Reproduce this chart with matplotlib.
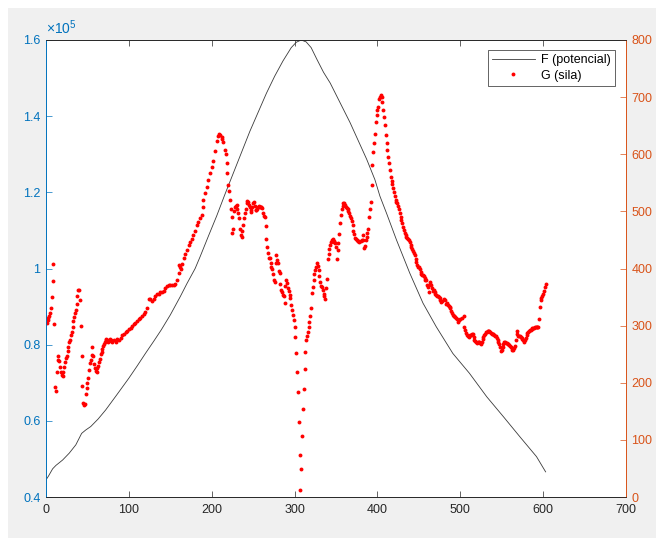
import numpy as np
import matplotlib
matplotlib.use("Agg")
import matplotlib.pyplot as plt
from matplotlib.patches import Rectangle
from matplotlib.lines import Line2D

plt.rcParams['font.family'] = ['Liberation Sans', 'DejaVu Sans']
plt.rcParams['mathtext.default'] = 'regular'

# F (potencial) - levá osa
f_x = [0, 3, 8, 12, 20, 28, 36, 43, 48, 54, 63, 72, 85, 100, 110, 120, 130, 139,
       150, 162, 170, 180, 186, 196, 206, 216, 226, 236, 246, 256, 266, 276, 286,
       296, 302, 308, 314, 320, 327, 335, 343, 355, 367, 377, 387, 392, 397, 403,
       411, 423, 439, 455, 471, 491, 511, 532, 552, 572, 592, 603]
f_y = [44500, 45500, 47400, 48300, 49700, 51500, 53700, 56700, 57600, 58500,
       60500, 62850, 66700, 71200, 74400, 77700, 80900, 83850, 87800, 92600,
       96000, 100000, 103100, 108500, 113800, 119500, 125000, 130500, 136000,
       141000, 146000, 150500, 154500, 158000, 159400, 160000, 159500, 158000,
       154900, 151500, 148700, 143500, 138300, 133500, 128700, 126000, 123300,
       119000, 114500, 107500, 98800, 90900, 84700, 77700, 72500, 66300, 61100,
       55800, 50600, 46600]

# G (sila) - pravá osa
g_x = [1, 2, 3, 4, 5, 6, 7, 8, 9, 10, 11, 12, 13, 14, 15, 16, 17, 18, 19, 20,
       21, 22, 23, 24, 25, 26, 27, 28, 29, 30, 31, 32, 33, 34, 35, 36, 37, 38, 39, 40,
       41, 42, 43, 44, 45, 46, 47, 48, 49, 50, 51, 52, 53, 54, 55, 56, 57, 58, 59, 60,
       61, 62, 63, 64, 65, 66, 67, 68, 69, 70, 71, 72, 73, 74, 75, 76, 77, 78, 79, 80,
       82, 84, 86, 88, 90, 92, 94, 96, 98, 100, 102, 104, 106, 108, 110, 112, 114, 116,
       118, 120, 122, 124, 126, 128, 130, 132, 134, 136, 138, 140, 142, 144, 146, 148,
       150, 152, 154, 156, 158, 160, 161, 162, 163, 164, 166, 168, 170, 172, 174, 176,
       178, 180, 182, 184, 186, 188, 189, 190, 192, 194, 196, 198, 200, 202, 204, 206,
       208, 209, 210, 212, 213, 214, 216, 217, 218, 219, 220, 221, 222, 223, 224, 225,
       226, 227, 228, 229, 230, 231, 232, 233, 234, 235, 236, 237, 238, 239, 240, 241,
       242, 243, 244, 245, 246, 247, 248, 249, 250, 251, 252, 253, 254, 255, 256, 257,
       258, 259, 260, 261, 262, 263, 264, 265, 266, 267, 268, 269, 270, 271, 272, 273,
       274, 275, 276, 277, 278, 279, 280, 281, 282, 283, 284, 285, 286, 287, 288, 289,
       290, 291, 292, 293, 294, 295, 296, 297, 298, 299, 300, 301, 302, 303, 304, 305,
       306, 307, 308, 309, 310, 311, 312, 313, 314, 315, 316, 317, 318, 319, 320, 321,
       322, 323, 324, 325, 326, 327, 328, 329, 330, 331, 332, 333, 334, 335, 336, 337,
       338, 339, 340, 341, 342, 343, 344, 345, 346, 347, 348, 349, 350, 351, 352, 353,
       354, 355, 356, 357, 358, 359, 360, 361, 362, 363, 364, 365, 366, 367, 368, 369,
       370, 371, 372, 373, 374, 375, 376, 377, 378, 380, 381, 382, 383, 384, 385, 386,
       387, 388, 389, 390, 391, 392, 393, 394, 395, 396, 397, 398, 399, 400, 401, 402,
       403, 404, 405, 406, 407, 408, 409, 410, 411, 412, 413, 414, 415, 416, 417, 418,
       419, 420, 421, 422, 423, 424, 425, 426, 427, 428, 429, 430, 431, 432, 433, 434,
       435, 436, 437, 438, 439, 440, 441, 442, 443, 444, 445, 446, 447, 448, 449, 450,
       451, 452, 453, 454, 455, 456, 457, 458, 459, 460, 461, 462, 463, 464, 465, 466,
       467, 468, 469, 470, 471, 472, 473, 474, 475, 476, 477, 478, 480, 482, 483, 484,
       485, 486, 487, 488, 489, 490, 491, 492, 493, 494, 495, 496, 497, 498, 500, 502,
       504, 505, 506, 507, 508, 509, 510, 511, 512, 513, 514, 515, 516, 517, 518, 519,
       520, 521, 522, 523, 524, 525, 526, 527, 528, 529, 530, 531, 532, 533, 534, 535,
       536, 537, 538, 539, 540, 541, 542, 543, 544, 545, 546, 547, 548, 549, 550, 551,
       552, 553, 554, 555, 556, 557, 558, 559, 560, 561, 562, 563, 564, 565, 566, 567,
       568, 569, 570, 571, 572, 573, 574, 575, 576, 577, 578, 579, 580, 581, 582, 583,
       584, 585, 586, 587, 588, 589, 590, 591, 592, 593, 594, 595, 596, 597, 598, 599,
       600, 601, 602, 603]
g_y = [305, 310, 313, 317, 322, 330, 350, 378, 408, 303, 192, 185, 218, 240, 246, 238, 228, 219, 214, 211,
       219, 228, 236, 243, 247, 255, 263, 271, 275, 283, 289, 298, 308, 315, 322, 328, 338, 351, 362, 362,
       345, 300, 247, 194, 165, 161, 163, 181, 190, 199, 208, 222, 234, 240, 249, 262, 246, 232, 226, 220,
       219, 225, 229, 236, 241, 250, 254, 259, 264, 268, 272, 275, 276, 275, 272, 274, 276, 275, 273, 272,
       274, 272, 276, 275, 279, 283, 286, 289, 291, 294, 296, 300, 302, 305, 308, 311, 314, 316,
       320, 324, 330, 346, 346, 343, 346, 352, 356, 356, 358, 359, 360, 366, 370, 371,
       371, 371, 371, 372, 380, 392, 406, 403, 400, 408, 418, 425, 432, 441, 447, 452,
       458, 465, 477, 482, 488, 494, 508, 520, 532, 543, 555, 567, 578, 588, 606, 623,
       632, 635, 634, 630, 627, 622, 608, 600, 584, 567, 546, 535, 520, 505, 490, 462,
       470, 500, 508, 510, 512, 505, 497, 488, 470, 459, 456, 465, 476, 488, 497, 505,
       514, 518, 517, 512, 508, 502, 499, 508, 515, 517, 510, 502, 503, 505, 508, 509,
       508, 507, 508, 506, 497, 492, 490, 474, 451, 438, 427, 418, 418, 409, 403, 400,
       390, 380, 377, 410, 424, 415, 409, 395, 392, 372, 362, 358, 354, 352, 340, 370,
       379, 375, 365, 360, 354, 348, 336, 327, 319, 310, 297, 280, 252, 219, 183, 132,
       74, 12, 49, 106, 154, 189, 224, 254, 274, 282, 289, 298, 307, 316, 331, 357,
       367, 380, 390, 397, 403, 410, 405, 398, 386, 377, 370, 367, 362, 356, 352, 347,
       365, 382, 417, 425, 435, 442, 447, 450, 451, 449, 446, 444, 438, 416, 432, 445,
       460, 479, 493, 505, 510, 514, 515, 512, 508, 506, 504, 500, 497, 492, 488, 484,
       476, 465, 460, 454, 451, 450, 448, 448, 447, 448, 450, 458, 450, 436, 440, 450,
       455, 462, 470, 490, 505, 517, 546, 581, 604, 619, 635, 657, 668, 677, 683, 696,
       700, 704, 700, 692, 677, 666, 651, 634, 619, 607, 596, 584, 572, 561, 554, 548,
       541, 534, 527, 520, 517, 514, 509, 505, 498, 491, 485, 479, 473, 467, 463, 459,
       456, 453, 451, 450, 446, 442, 438, 434, 430, 427, 423, 416, 412, 407, 403, 402,
       400, 393, 390, 389, 388, 386, 384, 380, 380, 371, 368, 358, 377, 372, 371, 365,
       360, 362, 358, 356, 354, 352, 351, 350, 348, 345, 342, 343, 346, 345, 338, 340,
       336, 334, 333, 330, 325, 322, 319, 317, 316, 315, 314, 311, 307, 309, 312, 313,
       316, 298, 292, 287, 283, 281, 280, 281, 283, 284, 285, 285, 280, 275, 273, 271,
       270, 271, 272, 272, 270, 268, 271, 276, 280, 284, 286, 288, 289, 290, 291, 291,
       289, 287, 285, 285, 285, 284, 282, 281, 278, 275, 272, 268, 262, 256, 258, 263,
       268, 272, 271, 270, 269, 268, 267, 266, 265, 262, 260, 258, 257, 260, 264, 275,
       291, 285, 282, 282, 281, 280, 279, 276, 274, 272, 275, 278, 283, 287, 289, 291,
       292, 293, 294, 295, 295, 296, 297, 298, 298, 298, 298, 311, 333, 344, 348, 352,
       356, 361, 368, 372]

x_ticks = [0, 100, 200, 300, 400, 500, 600, 700]
left_ticks = [40000, 60000, 80000, 100000, 120000, 140000, 160000]
left_labels = ['0.4', '0.6', '0.8', '1', '1.2', '1.4', '1.6']
right_ticks = [0, 100, 200, 300, 400, 500, 600, 700, 800]

blue = '#0072BD'
orange = '#D95319'
dark = '#262626'

fig = plt.figure(figsize=(6.56, 5.38), dpi=100, facecolor='white')
fig.patches.append(Rectangle((8 / 656, 0), 1, 1 - 8 / 538, transform=fig.transFigure,
                             facecolor='#f0f0f0', edgecolor='none', zorder=-10))

ax = fig.add_axes([46 / 656, 41 / 538, 580 / 656, 457 / 538])
ax2 = ax.twinx()

ax.plot(f_x, f_y, color='#3a3a3a', lw=0.6, label='F (potencial)')
ax2.plot(g_x, g_y, linestyle='none', marker='o', ms=2.8, mew=0, color='red',
         label='G (sila)')

ax.set_xlim(0, 700)
ax.set_ylim(40000, 160000)
ax2.set_ylim(0, 800)

ax.set_xticks(x_ticks)
ax.set_yticks(left_ticks)
ax.set_yticklabels(left_labels)
ax2.set_yticks(right_ticks)

fs = 9
ax.tick_params(axis='x', direction='in', top=True, length=4, width=0.5,
               colors=dark, labelsize=fs, pad=5)
ax.tick_params(axis='y', direction='in', length=4, width=0.5, colors=blue,
               labelsize=fs, pad=4)
ax2.tick_params(axis='y', direction='in', length=4, width=0.5, colors=orange,
                labelsize=fs, pad=4)

for a in (ax, ax2):
    a.spines['top'].set_color(dark)
    a.spines['bottom'].set_color(dark)
    a.spines['left'].set_color(blue)
    a.spines['right'].set_color(orange)
    for s in a.spines.values():
        s.set_linewidth(0.6)

ax.text(0.0, 1.006, r'$\times10^{5}$', transform=ax.transAxes, ha='left',
        va='bottom', color=blue, fontsize=10)

handles = [Line2D([], [], color='#3a3a3a', lw=0.6),
           Line2D([], [], linestyle='none', marker='o', ms=2.8, mew=0, color='red')]
leg = ax2.legend(handles, ['F (potencial)', 'G (sila)'], loc='upper right',
                 bbox_to_anchor=(0.981, 0.978), borderaxespad=0, fontsize=fs,
                 fancybox=False, framealpha=1, edgecolor=dark, handlelength=3.4,
                 borderpad=0.35, labelspacing=0.25, handletextpad=0.5)
leg.get_frame().set_linewidth(0.5)

fig.savefig('out.png', dpi=100, facecolor=fig.get_facecolor())
